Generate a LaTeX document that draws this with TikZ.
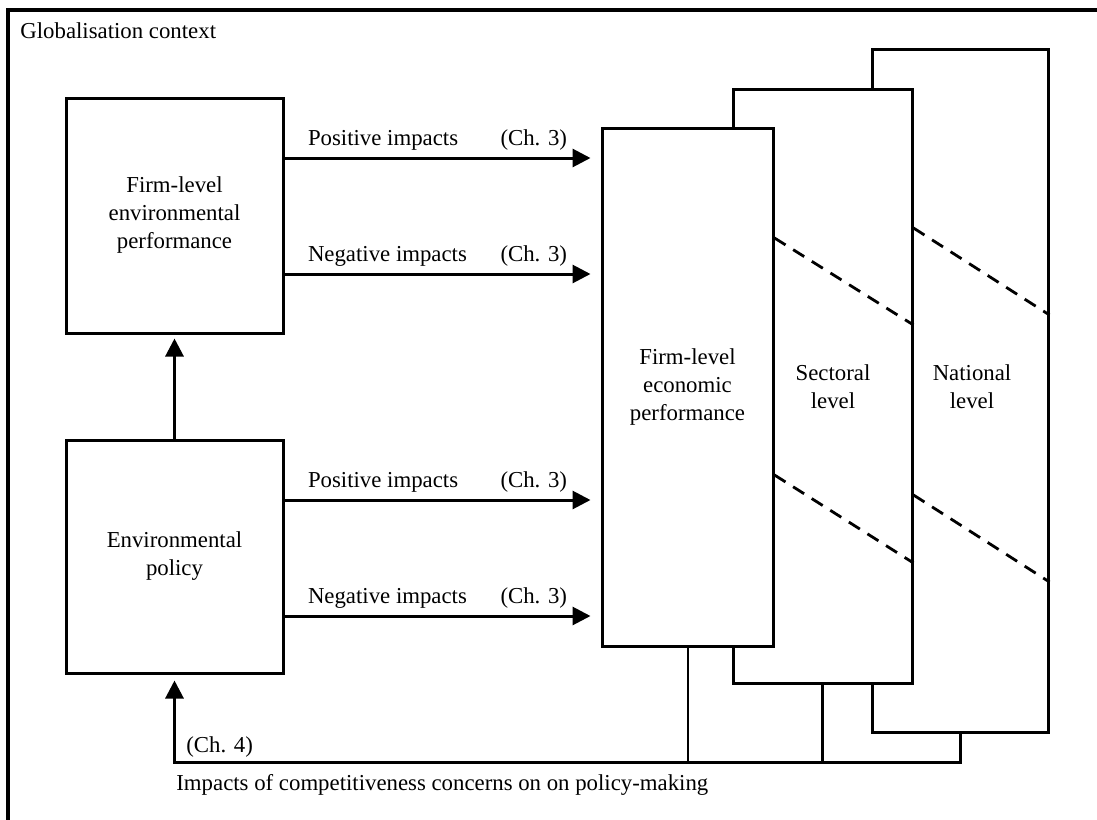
\documentclass[tikz,border=0pt]{standalone}
\usepackage{fontspec}
\setmainfont{Liberation Serif}
\usetikzlibrary{arrows.meta,calc,positioning}

\begin{document}
\begin{tikzpicture}[x=0.5pt,y=-0.5pt,
    font=\fontsize{11.4}{14}\selectfont,
    every node/.style={align=center},
    box/.style={draw,line width=1.5pt,fill=white,inner sep=0pt},
    arr/.style={line width=1.5pt,-{Triangle[length=9pt,width=9pt]}},
    fb/.style={line width=1.5pt},
    dsh/.style={line width=1.4pt,dash pattern=on 6.5pt off 4.5pt},
    lbl/.style={inner sep=0pt}]
\useasboundingbox (0,0) rectangle (1097,819);
\clip (0,0) rectangle (1097,819);
\draw[line width=1.75pt] (8,10) rectangle (1200,900);
\node[lbl,anchor=base west] (glob) at (20,38) {Globalisation context};

\node[box,minimum width=88pt,minimum height=341.5pt] (nat) at (960,390.5) {};
\node[box,minimum width=89.5pt,minimum height=297pt] (sect) at (822.5,386) {};
\node[box,minimum width=85.5pt,minimum height=259pt] (firm) at (687.5,387)
            {Firm-level\\economic\\performance};
\node (secttxt) at (833,387) {Sectoral\\level};
\node (nattxt) at (972,387) {National\\level};

\node[box,minimum width=108.5pt,minimum height=117.5pt] (envperf) at (174.5,215.5)
            {Firm-level\\environmental\\performance};
\node[box,minimum width=108.5pt,minimum height=116.5pt] (envpol) at (174.5,556.5)
            {Environmental\\policy};

\draw[arr,shorten >=2pt] (envpol.north) -- (envperf.south);

\draw[arr,shorten >=5pt] (envperf.east |- 0,158) -- (firm.west |- 0,158)
            node[lbl,pos=0,anchor=base west,xshift=11pt,yshift=6.5pt] (pos1) {Positive impacts}
            node[lbl,pos=1,anchor=base east,xshift=-16pt,yshift=6.5pt] (ch3a) {(Ch. 3)};
\draw[arr,shorten >=5pt] (envperf.east |- 0,274) -- (firm.west |- 0,274)
            node[lbl,pos=0,anchor=base west,xshift=11pt,yshift=6.5pt] (neg1) {Negative impacts}
            node[lbl,pos=1,anchor=base east,xshift=-16pt,yshift=6.5pt] (ch3b) {(Ch. 3)};
\draw[arr,shorten >=5pt] (envpol.east |- 0,500) -- (firm.west |- 0,500)
            node[lbl,pos=0,anchor=base west,xshift=11pt,yshift=6.5pt] (pos2) {Positive impacts}
            node[lbl,pos=1,anchor=base east,xshift=-16pt,yshift=6.5pt] (ch3c) {(Ch. 3)};
\draw[arr,shorten >=5pt] (envpol.east |- 0,616) -- (firm.west |- 0,616)
            node[lbl,pos=0,anchor=base west,xshift=11pt,yshift=6.5pt] (neg2) {Negative impacts}
            node[lbl,pos=1,anchor=base east,xshift=-16pt,yshift=6.5pt] (ch3d) {(Ch. 3)};

\draw[dsh] (firm.east |- 0,238) -- (sect.east |- 0,325);
\draw[dsh] (firm.east |- 0,475) -- (sect.east |- 0,563);
\draw[dsh] (sect.east |- 0,228) -- (nat.east |- 0,315);
\draw[dsh] (sect.east |- 0,495) -- (nat.east |- 0,582);

\coordinate (fbcorner) at (envpol.south |- 0,762);
\draw[arr,shorten >=3pt] (nat.south) |- (fbcorner) -- (envpol.south);
\draw[fb] (sect.south) -- (sect.south |- fbcorner);
\draw[line width=1pt] (firm.south) -- (firm.south |- fbcorner);

\node[lbl,anchor=base west] (ch4) at (186,752) {(Ch. 4)};
\node[lbl,anchor=base west] (impacts) at (176,790)
            {Impacts of competitiveness concerns on on policy-making};
\end{tikzpicture}
\end{document}
